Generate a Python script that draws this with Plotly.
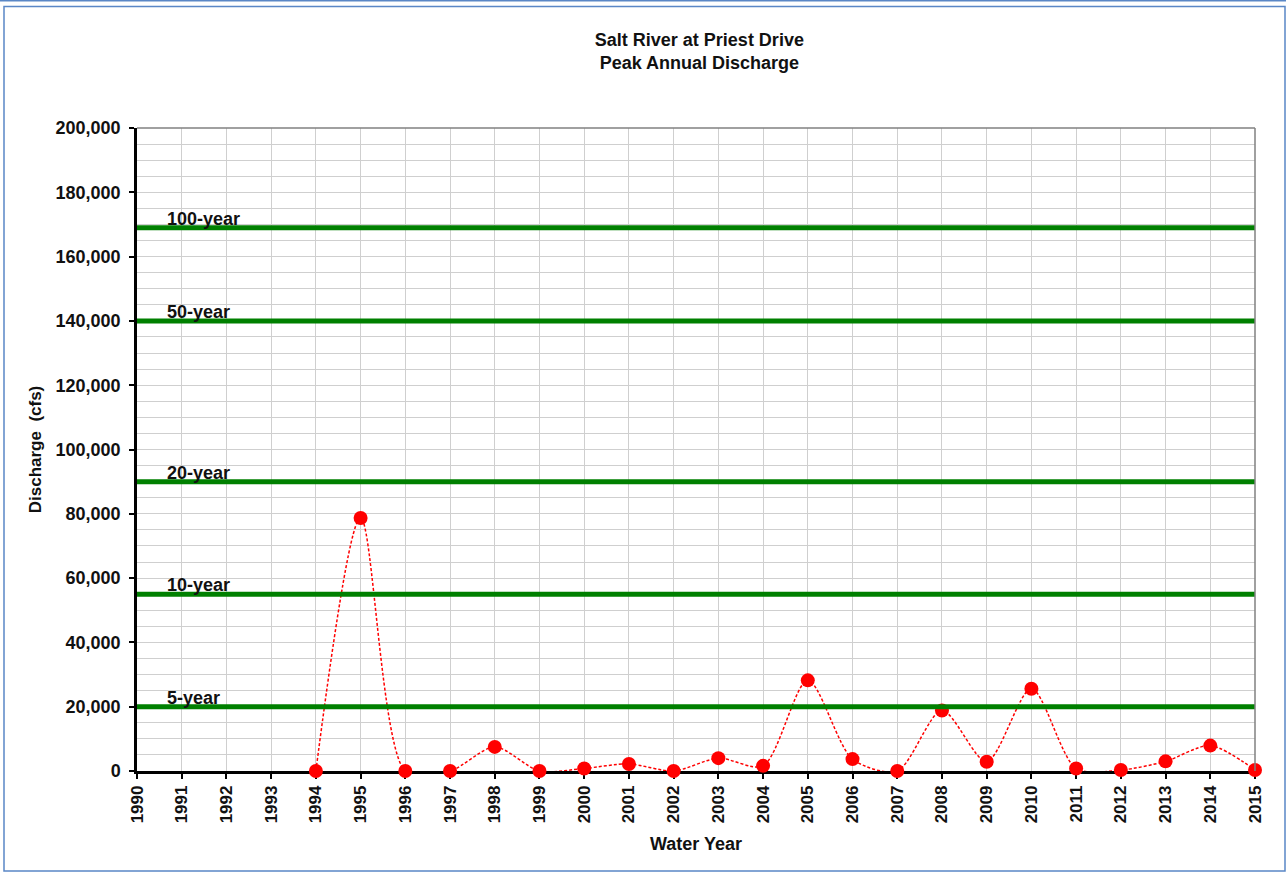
import plotly.graph_objects as go

# ---- data ----
years = list(range(1994, 2016))
discharge = [0, 78700, 0, 0, 7500, 0, 800, 2200, 0, 4000, 1600, 28200,
             3700, 0, 18800, 2900, 25600, 800, 300, 3000, 7900, 300]
return_periods = ["100-year", "50-year", "20-year", "10-year", "5-year"]
return_flows = [169000, 140000, 90000, 55000, 20000]
x_ticks = list(range(1990, 2016))
x_range = [1990, 2015]
y_range = [0, 200000]

FONT = "Liberation Sans"
W, H = 1286, 873
L, R, T, B = 137, 31, 128, 102
pw, ph = W - L - R, H - T - B

def px_x(p):
    return (p - L) / pw

def px_y(p):
    return (H - B - p) / ph

fig = go.Figure()

# smoothed dotted line (clipped to plot area)
fig.add_trace(go.Scatter(
    x=years, y=discharge, mode="lines",
    line=dict(color="#FF0000", width=1.5, dash="3px,2px", shape="spline", smoothing=0.8),
    hoverinfo="skip", showlegend=False,
))
# markers
fig.add_trace(go.Scatter(
    x=years, y=discharge, mode="markers",
    marker=dict(color="#FF0000", size=14, line=dict(width=0)),
    cliponaxis=False, showlegend=False,
))
# return-period lines
for name, q in zip(return_periods, return_flows):
    fig.add_trace(go.Scatter(
        x=x_range, y=[q, q], mode="lines",
        line=dict(color="#008000", width=5),
        hoverinfo="skip", showlegend=False,
    ))
    fig.add_annotation(
        x=1990.62, y=q, xref="x", yref="y", text=name, showarrow=False,
        xanchor="left", yanchor="bottom", yshift=-3,
        font=dict(family=FONT, size=18, color="#111111", weight="bold"),
    )

shapes = [
    # top / right plot frame
    dict(type="line", xref="paper", yref="paper", x0=0, x1=1, y0=1, y1=1,
         line=dict(color="#808080", width=1.5), layer="above"),
    dict(type="line", xref="paper", yref="paper", x0=1, x1=1, y0=0, y1=1,
         line=dict(color="#808080", width=1.5), layer="above"),
    # outer chart border
    dict(type="rect", xref="paper", yref="paper",
         x0=px_x(4), x1=px_x(1285), y0=px_y(871), y1=px_y(6.5),
         line=dict(color="#5A87C6", width=1.5), layer="above"),
    dict(type="line", xref="paper", yref="paper",
         x0=px_x(0), x1=px_x(1286), y0=px_y(0.8), y1=px_y(0.8),
         line=dict(color="#5A87C6", width=1.5), layer="above"),
]

fig.update_layout(
    width=W, height=H,
    margin=dict(l=L, r=R, t=T, b=B),
    paper_bgcolor="white", plot_bgcolor="white",
    font=dict(family=FONT, color="#111111"),
    title=dict(
        text="Salt River at Priest Drive<br>Peak Annual Discharge",
        x=0.503, xanchor="center", xref="paper",
        y=1 - 46 / H, yanchor="middle", yref="container",
        font=dict(family=FONT, size=18, color="#111111", weight="bold"),
    ),
    shapes=shapes,
    showlegend=False,
)

fig.update_xaxes(
    range=x_range, tickmode="array", tickvals=x_ticks, ticktext=[str(v) for v in x_ticks],
    tickangle=-90, ticks="outside", ticklen=5, tickwidth=2, tickcolor="black",
    showline=True, linecolor="black", linewidth=2.5,
    showgrid=True, gridcolor="#CFCFCF", gridwidth=1.2,
    zeroline=False, layer="below traces",
    tickfont=dict(family=FONT, size=17, color="#111111", weight="bold"),
    title=dict(text="Water Year", standoff=16,
               font=dict(family=FONT, size=18, color="#111111", weight="bold")),
)
fig.update_yaxes(
    range=y_range, dtick=20000, tickformat=",d",
    ticks="outside", ticklen=5, tickwidth=2, tickcolor="black",
    showline=True, linecolor="black", linewidth=2.5,
    showgrid=True, gridcolor="#CFCFCF", gridwidth=1.2,
    minor=dict(dtick=5000, showgrid=True, gridcolor="#CFCFCF", gridwidth=1.2, ticks=""),
    zeroline=False, layer="below traces",
    ticklabelstandoff=5,
    tickfont=dict(family=FONT, size=18, color="#111111", weight="bold"),
    title=dict(text="Discharge  (cfs)", standoff=10,
               font=dict(family=FONT, size=17, color="#111111", weight="bold")),
)

fig.write_html("out.html", config={"displayModeBar": False},
               post_script="document.body.style.margin='0';")
